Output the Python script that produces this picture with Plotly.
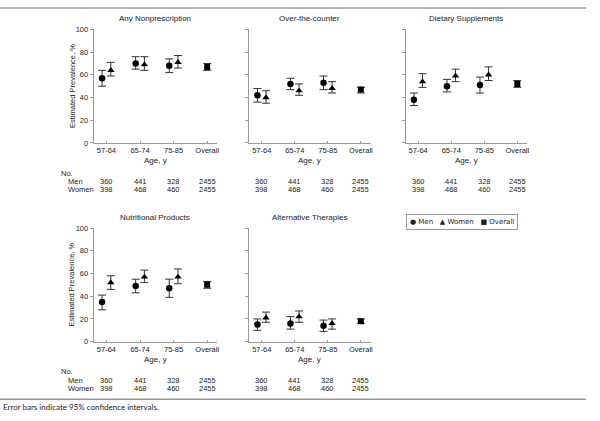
import plotly.graph_objects as go

W, H = 600, 421

categories = ["57-64", "65-74", "75-85", "Overall"]
panel_titles = ["Any Nonprescription", "Over-the-counter", "Dietary Supplements",
                "Nutritional Products", "Alternative Therapies"]

# Men (age groups), Women (age groups), Overall -- estimate, lower CI, upper CI
men_est = [[57, 70, 68], [42, 52, 53], [38, 50, 51], [35, 49, 47], [15, 16, 14]]
men_lo = [[50, 65, 62], [36, 47, 47], [33, 45, 44], [28, 43, 39], [10, 11, 9]]
men_hi = [[64, 76, 74], [48, 57, 59], [44, 56, 58], [41, 55, 55], [20, 22, 19]]

women_est = [[64, 69, 71], [40, 46, 48], [54, 59, 60], [52, 57, 57], [21, 22, 16]]
women_lo = [[59, 64, 66], [35, 42, 44], [49, 54, 55], [46, 52, 51], [17, 17, 11]]
women_hi = [[71, 76, 77], [46, 52, 54], [61, 65, 67], [58, 63, 64], [26, 27, 20]]

overall_est = [67, 47, 52, 50, 18]
overall_lo = [64, 44, 49, 47, 16]
overall_hi = [70, 49, 55, 53, 20]

n_men = [360, 441, 328, 2455]
n_women = [398, 468, 460, 2455]

y_ticks = [0, 20, 40, 60, 80, 100]

FONT = "Liberation Sans, Arial, sans-serif"
TXT = "#222"
AX = "#9a9a9a"


def xp(px):
    return px / W


def yp(py):
    return 1 - py / H


def label(text, x, y, xref="paper", xanchor="center", size=7.5, family=FONT, **kw):
    return dict(text=text, x=x, y=yp(y), xref=xref, yref="paper",
                xanchor=xanchor, yanchor="middle", showarrow=False,
                font=dict(family=family, size=size, color=TXT), **kw)


# panel pixel boxes: (x0, x1), (ytop, ybottom)
col_x = [(94, 218), (250, 372), (407, 529)]
row_y = [(26, 142), (229, 345)]
boxes = [(col_x[0], row_y[0]), (col_x[1], row_y[0]), (col_x[2], row_y[0]),
         (col_x[0], row_y[1]), (col_x[1], row_y[1])]

fig = go.Figure()
annotations = []
OFF = 0.13
xpos = list(range(len(categories)))

for i, ((x0, x1), (yt, yb)) in enumerate(boxes):
    k = "" if i == 0 else str(i + 1)
    xa, ya = "x" + k, "y" + k
    fig.add_trace(go.Scatter(
        x=[p - OFF for p in xpos[:3]], y=men_est[i], mode="markers",
        marker=dict(symbol="circle", size=6.5, color="#000"),
        error_y=dict(type="data", symmetric=False,
                     array=[h - e for h, e in zip(men_hi[i], men_est[i])],
                     arrayminus=[e - l for e, l in zip(men_est[i], men_lo[i])],
                     color="#333", thickness=1, width=4),
        xaxis=xa, yaxis=ya, showlegend=False, name="Men"))
    fig.add_trace(go.Scatter(
        x=[p + OFF for p in xpos[:3]], y=women_est[i], mode="markers",
        marker=dict(symbol="triangle-up", size=6.5, color="#000"),
        error_y=dict(type="data", symmetric=False,
                     array=[h - e for h, e in zip(women_hi[i], women_est[i])],
                     arrayminus=[e - l for e, l in zip(women_est[i], women_lo[i])],
                     color="#333", thickness=1, width=4),
        xaxis=xa, yaxis=ya, showlegend=False, name="Women"))
    fig.add_trace(go.Scatter(
        x=[xpos[3]], y=[overall_est[i]], mode="markers",
        marker=dict(symbol="square", size=6, color="#000"),
        error_y=dict(type="data", symmetric=False,
                     array=[overall_hi[i] - overall_est[i]],
                     arrayminus=[overall_est[i] - overall_lo[i]],
                     color="#333", thickness=1, width=4),
        xaxis=xa, yaxis=ya, showlegend=False, name="Overall"))

    left = (i in (0, 3))
    fig.update_layout(**{
        ("xaxis" + k): dict(domain=[xp(x0), xp(x1)], range=[-0.38, 3.3],
                            anchor=ya, tickvals=xpos, ticktext=categories,
                            showline=True, linecolor=AX, linewidth=1,
                            ticks="inside", ticklen=2, tickcolor=AX,
                            showgrid=False, zeroline=False,
                            tickfont=dict(family=FONT, size=7.5, color=TXT)),
        ("yaxis" + k): dict(domain=[yp(yb), yp(yt)], range=[0, 100],
                            anchor=xa, tickvals=y_ticks,
                            showticklabels=left,
                            showline=True, linecolor=AX, linewidth=1,
                            ticks="outside", ticklen=3, tickcolor=AX,
                            showgrid=False, zeroline=False,
                            tickfont=dict(family=FONT, size=7.5, color=TXT)),
    })

    cx = (x0 + x1) / 2
    annotations.append(label(panel_titles[i], xp(cx), yt - 11, size=8))
    annotations.append(label("Age, y", xp(cx), yb + 18, size=8))
    if left:
        annotations.append(label("Estimated Prevalence, %", xp(72), (yt + yb) / 2,
                                 textangle=-90))
        annotations.append(label("No.", xp(59), yb + 31, xanchor="left"))
        annotations.append(label("Men", xp(66), yb + 39.5, xanchor="left"))
        annotations.append(label("Women", xp(66), yb + 48, xanchor="left"))
    for j, c in enumerate(xpos):
        annotations.append(label(str(n_men[j]), c, yb + 39.5, xref=xa))
        annotations.append(label(str(n_women[j]), c, yb + 48, xref=xa))

# legend box
annotations.append(label("\u25CF Men   \u25B2 Women   \u25A0 Overall", xp(464), 223,
                         size=7, family="DejaVu Sans, " + FONT,
                         bordercolor=AX, borderwidth=1, borderpad=3))

# footnote
annotations.append(label("Error bars indicate 95% confidence intervals.", xp(1), 412,
                         xanchor="left", size=8, family="Lato, Open Sans, sans-serif"))

shapes = [
    dict(type="line", xref="paper", yref="paper", x0=0, x1=xp(588), y0=yp(4), y1=yp(4),
         line=dict(color="#999", width=1.5)),
    dict(type="line", xref="paper", yref="paper", x0=0, x1=xp(588), y0=yp(404), y1=yp(404),
         line=dict(color="#999", width=1.5)),
]

fig.update_layout(width=W, height=H, margin=dict(l=0, r=0, t=0, b=0),
                  paper_bgcolor="white", plot_bgcolor="white",
                  annotations=annotations, shapes=shapes, showlegend=False)

fig.write_html("out.html", config={"displayModeBar": False})

# remove default page margins so the 600x421 figure fills the window exactly
with open("out.html", "r", encoding="utf-8") as f:
    html = f.read()
html = html.replace("<head>", "<head><style>html,body{margin:0;padding:0;overflow:hidden;}</style>", 1)
with open("out.html", "w", encoding="utf-8") as f:
    f.write(html)
